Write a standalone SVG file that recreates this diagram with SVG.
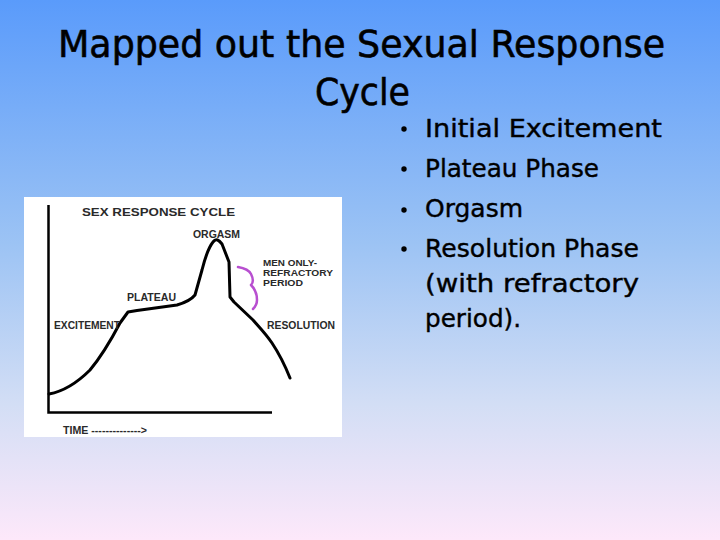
<svg xmlns="http://www.w3.org/2000/svg" width="720" height="540" viewBox="0 0 720 540">
<defs>
<linearGradient id="bg" x1="0" y1="0" x2="0" y2="1">
<stop offset="0" stop-color="#5a9bfb"/>
<stop offset="0.45" stop-color="#9cc3f4"/>
<stop offset="0.75" stop-color="#d3def5"/>
<stop offset="1" stop-color="#fde8fa"/>
</linearGradient>
<style>
.title{font-family:"DejaVu Sans","Liberation Sans",sans-serif;font-size:38px;fill:#000;stroke:#000;stroke-width:0.6}
.bul{font-family:"DejaVu Sans","Liberation Sans",sans-serif;font-size:25px;fill:#000;stroke:#000;stroke-width:0.4}
.lab{font-family:"Liberation Sans",Arial,sans-serif;font-weight:bold;font-size:10.5px;fill:#2a2a2a}
.sm{font-size:9px}
.curve{fill:none;stroke:#000;stroke-width:3;stroke-linejoin:round;stroke-linecap:round}
.axis{fill:none;stroke:#000;stroke-width:2.5}
</style>
</defs>
<rect width="720" height="540" fill="url(#bg)"/>
<g id="title">
<text class="title" x="58" y="57" textLength="607" lengthAdjust="spacingAndGlyphs">Mapped out the Sexual Response</text>
<text class="title" x="315" y="105" textLength="95" lengthAdjust="spacingAndGlyphs">Cycle</text>
</g>
<g id="bullets">
<circle cx="404" cy="129" r="2.7"/>
<circle cx="404" cy="169" r="2.7"/>
<circle cx="404" cy="210" r="2.7"/>
<circle cx="404" cy="249" r="2.7"/>
<text class="bul" x="425" y="137" textLength="237" lengthAdjust="spacingAndGlyphs">Initial Excitement</text>
<text class="bul" x="425" y="177" textLength="174" lengthAdjust="spacingAndGlyphs">Plateau Phase</text>
<text class="bul" x="425" y="217" textLength="98" lengthAdjust="spacingAndGlyphs">Orgasm</text>
<text class="bul" x="425" y="257" textLength="214" lengthAdjust="spacingAndGlyphs">Resolution Phase</text>
<text class="bul" x="425" y="292" textLength="214" lengthAdjust="spacingAndGlyphs">(with refractory</text>
<text class="bul" x="425" y="327" textLength="96" lengthAdjust="spacingAndGlyphs">period).</text>
</g>
<g id="chart">
<rect x="24" y="197" width="318" height="240" fill="#fff"/>
<path class="axis" d="M48.5,205 V412.5 H272"/>
<path class="curve" d="M49,394 C60,392 75,385 90,370 C100,358 110,342 120,323 L128,312 L137,310.5 L177,305 C184,303 191,300 195,295 L202,270 C205,258 209,247 213,242 C216,238 219,240 222,244 L229,262 L230,297 L234,302 L253,320 C260,328 266,334 272,343 C278,352 284,363 290,378"/>
<path d="M238,267 C244,268 249,270 251,274 C253,278 254,282 251,285 C255,289 257,294 257,300 C257,304 255,307 253,309" fill="none" stroke="#b84fd0" stroke-width="2.5" stroke-linecap="round" stroke-linejoin="round"/>
<text class="lab" x="82" y="216" font-size="11" textLength="153" lengthAdjust="spacingAndGlyphs">SEX RESPONSE CYCLE</text>
<text class="lab" x="193" y="238" textLength="47" lengthAdjust="spacingAndGlyphs">ORGASM</text>
<text class="lab sm" x="263" y="266" textLength="54" lengthAdjust="spacingAndGlyphs">MEN ONLY-</text>
<text class="lab sm" x="263" y="276" textLength="70" lengthAdjust="spacingAndGlyphs">REFRACTORY</text>
<text class="lab sm" x="263" y="286" textLength="40" lengthAdjust="spacingAndGlyphs">PERIOD</text>
<text class="lab" x="127" y="301" textLength="49" lengthAdjust="spacingAndGlyphs">PLATEAU</text>
<text class="lab" x="54" y="329" textLength="66" lengthAdjust="spacingAndGlyphs">EXCITEMENT</text>
<text class="lab" x="267" y="329" textLength="68" lengthAdjust="spacingAndGlyphs">RESOLUTION</text>
<text class="lab" x="63" y="434" font-size="9" textLength="84" lengthAdjust="spacingAndGlyphs">TIME --------------&gt;</text>
</g>
</svg>
